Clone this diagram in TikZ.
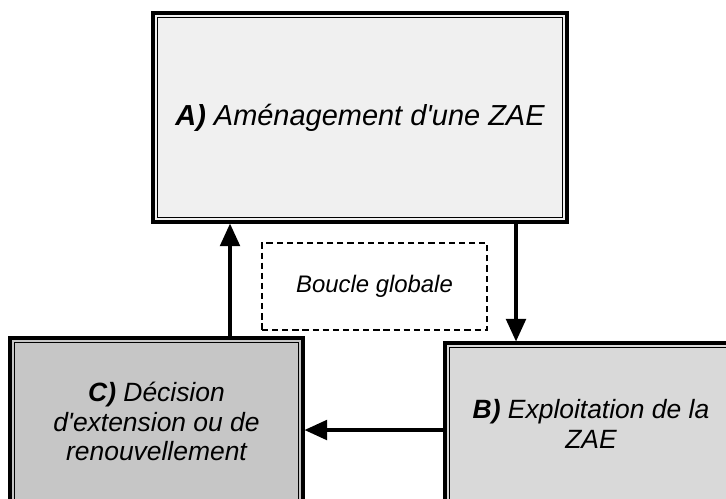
\documentclass[tikz,border=0pt]{standalone}
\usepackage{fontspec}
\setmainfont{Liberation Sans}
\usepackage{tikz}
\usetikzlibrary{arrows.meta}
\tikzset{
  etape/.style = {rectangle, align=center, inner sep=0pt, draw=black,
    line width=1.1pt, font=\itshape,
    path picture={\draw[line width=0.4pt]
      ([shift={(1.6pt,1.6pt)}]path picture bounding box.south west) rectangle
      ([shift={(-1.6pt,-1.6pt)}]path picture bounding box.north east);}},% boite double
  etape_a/.style = {etape, fill=gray!12, font=\itshape\fontsize{10.3}{12}\selectfont},
  etape_b/.style = {etape, fill=gray!30, font=\itshape\fontsize{9.4}{10.6}\selectfont},
  etape_c/.style = {etape, fill=gray!45, font=\itshape\fontsize{9.4}{10.4}\selectfont},
  boucle/.style = {rectangle, draw=black, line width=1pt,
    dash pattern=on 2.2pt off 1.4pt, font=\itshape\fontsize{8.5}{10}\selectfont},% cadre pointille
  fleche/.style = {->, line width=1.1pt}
}

\begin{document}
\begin{tikzpicture}[>={Triangle[width=7pt,length=8pt]}]
    \useasboundingbox (0,0) rectangle (9.075,-6.225);
    \clip (0,0) rectangle (9.075,-6.225);
    \node [etape_a, minimum width=5.175cm, minimum height=2.6125cm] (amenag) at (4.5,-1.469)
        {{\bfseries A)} Aménagement d\textquotesingle une ZAE};
    \node [etape_b, minimum width=3.65cm, minimum height=2.025cm] (exploit) at (7.3875,-5.3)
        {{\bfseries B)} Exploitation de la\\ZAE};
    \node [etape_c, minimum width=3.6625cm, minimum height=2.0875cm] (decision) at (1.956,-5.269)
        {{\bfseries C)} Décision\\d\textquotesingle extension ou de\\renouvellement};
    \node [boucle, minimum width=2.8125cm, minimum height=1.0875cm] (globale) at (4.681,-3.581)
        {Boucle globale};
    % points d'attache des fleches
    \coordinate (montee) at (2.875,0);
    \coordinate (descente) at (6.45,0);
    \coordinate (retour) at (0,-5.375);
    \draw [fleche] (amenag.south -| descente) -- (exploit.north -| descente);
    \draw [fleche] (exploit.west |- retour) -- (decision.east |- retour);
    \draw [fleche] (decision.north -| montee) -- (amenag.south -| montee);
\end{tikzpicture}
\end{document}
